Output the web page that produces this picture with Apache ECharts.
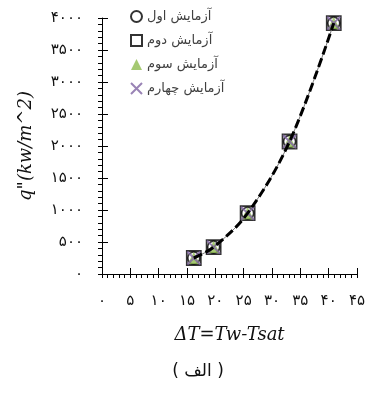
<!DOCTYPE html>
<html>
<head>
<meta charset="utf-8">
<script src="https://cdn.jsdelivr.net/npm/echarts@6/dist/echarts.min.js"></script>
<style>
  html, body { margin: 0; padding: 0; background: #fff; }
  #chart { width: 375px; height: 394px; }
</style>
</head>
<body>
<div id="chart"></div>
<script>
// Boiling curve: heat flux against wall superheat, four test runs
const deltaT = [16.2, 19.7, 25.7, 33.1, 40.9];
const qTest1 = [250, 420, 950, 2070, 3920];
const qTest2 = [250, 420, 950, 2070, 3920];
const qTest3 = [250, 420, 950, 2070, 3920];
const qTest4 = [250, 420, 950, 2070, 3920];

const testNames = ['آزمایش اول', 'آزمایش دوم', 'آزمایش سوم', 'آزمایش چهارم'];
const xTickLabels = ['۰', '۵', '۱۰', '۱۵', '۲۰', '۲۵', '۳۰', '۳۵', '۴۰', '۴۵'];
const yTickLabels = ['۰', '۵۰۰', '۱۰۰۰', '۱۵۰۰', '۲۰۰۰', '۲۵۰۰', '۳۰۰۰', '۳۵۰۰', '۴۰۰۰'];

const X_STEP = 5, Y_STEP = 500;

function pairs(xs, ys) { return xs.map((x, i) => [x, ys[i]]); }

const faFont = '"DejaVu Sans", sans-serif';
const mathFont = '"DejaVu Serif", serif';

const chart = echarts.init(document.getElementById('chart'), null, { renderer: 'canvas' });

const baseX = { type: 'value', min: 0, max: 45, interval: X_STEP, splitLine: { show: false }, gridIndex: 0 };
const baseY = { type: 'value', min: 0, max: 4000, interval: Y_STEP, splitLine: { show: false }, gridIndex: 0 };

chart.setOption({
  animation: false,
  backgroundColor: '#fff',
  grid: { left: 102, right: 18, top: 18, bottom: 120 },
  legend: {
    data: testNames,
    orient: 'vertical',
    left: 125,
    top: 5,
    align: 'left',
    itemWidth: 11,
    itemHeight: 11,
    itemGap: 11,
    textStyle: { fontFamily: faFont, fontSize: 13, color: '#404040' }
  },
  xAxis: [
    Object.assign({}, baseX, {
      position: 'bottom',
      axisLine: { show: true, onZero: false, lineStyle: { color: '#000', width: 1 } },
      axisTick: { show: true, inside: false, length: 4, lineStyle: { color: '#000' } },
      minorTick: { show: true, splitNumber: 5, length: 4, lineStyle: { color: '#000' } },
      axisLabel: {
        margin: 20, fontFamily: faFont, fontSize: 15, color: '#111',
        formatter: v => xTickLabels[Math.round(v / X_STEP)]
      },
      name: 'ΔT=Tw-Tsat',
      nameLocation: 'middle',
      nameGap: 52,
      nameTextStyle: { fontFamily: mathFont, fontStyle: 'italic', fontSize: 18, color: '#111' }
    }),
    Object.assign({}, baseX, {
      position: 'bottom',
      axisLine: { show: false, onZero: false },
      axisTick: { show: true, inside: true, length: 6, lineStyle: { color: '#000' } },
      axisLabel: { show: false }
    })
  ],
  yAxis: [
    Object.assign({}, baseY, {
      position: 'left',
      axisLine: { show: true, onZero: false, lineStyle: { color: '#000', width: 1 } },
      axisTick: { show: true, inside: false, length: 4, lineStyle: { color: '#000' } },
      minorTick: { show: true, splitNumber: 5, length: 4, lineStyle: { color: '#000' } },
      axisLabel: {
        margin: 19, fontFamily: faFont, fontSize: 15, color: '#111',
        formatter: v => yTickLabels[Math.round(v / Y_STEP)]
      },
      name: 'q"(kw/m^2)',
      nameLocation: 'middle',
      nameGap: 67,
      nameTextStyle: { fontFamily: mathFont, fontStyle: 'italic', fontSize: 18, color: '#111' }
    }),
    Object.assign({}, baseY, {
      position: 'left',
      axisLine: { show: false, onZero: false },
      axisTick: { show: true, inside: true, length: 6, lineStyle: { color: '#000' } },
      axisLabel: { show: false }
    })
  ],
  graphic: [{
    type: 'text',
    x: 198,
    y: 372,
    style: {
      text: '( الف )', fontFamily: faFont, fontSize: 17, fill: '#111',
      align: 'center', verticalAlign: 'middle'
    }
  }],
  series: [
    {
      name: testNames[0], type: 'scatter', data: pairs(deltaT, qTest1),
      symbol: 'circle', symbolSize: 12, z: 2,
      itemStyle: { color: 'rgba(0,0,0,0)', borderColor: '#000', borderWidth: 1.6 }
    },
    {
      name: testNames[1], type: 'scatter', data: pairs(deltaT, qTest2),
      symbol: 'rect', symbolSize: 14, z: 3,
      itemStyle: { color: 'rgba(0,0,0,0)', borderColor: '#000', borderWidth: 1.8 }
    },
    {
      name: testNames[2], type: 'scatter', data: pairs(deltaT, qTest3),
      symbol: 'triangle', symbolSize: 12, z: 4,
      itemStyle: { color: '#8fbc4f' }
    },
    {
      name: testNames[3], type: 'scatter', data: pairs(deltaT, qTest4),
      symbol: 'path://M0,0L10,10M10,0L0,10', symbolSize: 13, z: 5,
      itemStyle: { color: 'rgba(0,0,0,0)', borderColor: '#8064a2', borderWidth: 2 }
    },
    {
      name: 'fit', type: 'line', data: pairs(deltaT, qTest1),
      smooth: 0.35, symbol: 'none', z: 6,
      lineStyle: { color: '#777', width: 1 }
    },
    {
      name: 'fit-dash', type: 'line', data: pairs(deltaT, qTest1),
      smooth: 0.35, symbol: 'none', z: 7,
      lineStyle: { color: '#000', width: 3, type: [9, 4] }
    }
  ]
});
</script>
</body>
</html>
